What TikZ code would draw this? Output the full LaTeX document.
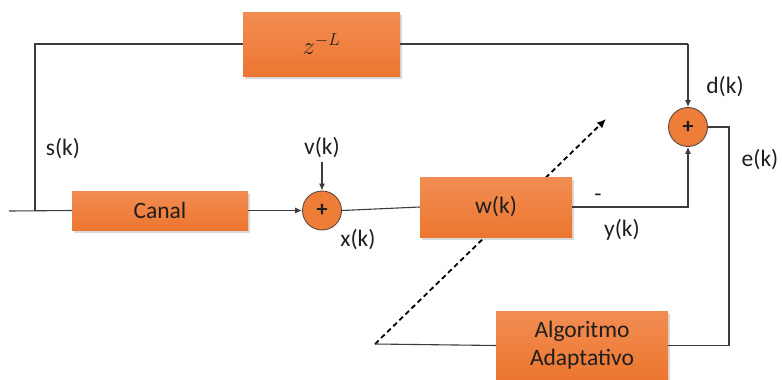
\documentclass[tikz,border=0pt]{standalone}
\usepackage{fontspec}
\setmainfont{Carlito}
\usetikzlibrary{arrows.meta,shadows}

\definecolor{orangeTop}{HTML}{F28D52}
\definecolor{orangeBot}{HTML}{EC7630}
\definecolor{orangeMid}{HTML}{EE7D38}
\definecolor{ringGray}{HTML}{5A4A40}
\definecolor{wireGray}{HTML}{3C3C3C}
\definecolor{inkBlack}{HTML}{1E1E1E}

\tikzset{
  block/.style={rectangle, inner sep=0pt, draw=none,
    top color=orangeTop, bottom color=orangeBot,
    drop shadow={shadow xshift=1.5pt, shadow yshift=-3pt, opacity=0.25, fill=black!60},
    font=\fontsize{23.5}{28}\selectfont, text=inkBlack, align=center},
  sumnode/.style={circle, minimum size=39pt, inner sep=0pt,
    fill=orangeMid, draw=ringGray, line width=0.9pt,
    font=\fontsize{22}{24}\selectfont\bfseries, text=inkBlack},
  wire/.style={draw=wireGray, line width=1.1pt},
  arr/.style={wire, -{Latex[length=7pt,width=6pt]}},
  adaptarrow/.style={draw=black, line width=1.8pt, dash pattern=on 5pt off 3.5pt,
    -{Latex[length=9pt,width=8pt]}},
  lbl/.style={font=\fontsize{23.5}{28}\selectfont, text=inkBlack, inner sep=0pt}
}

\begin{document}
\begin{tikzpicture}[x=1pt,y=-1pt]
  \useasboundingbox (0,0) rectangle (782,380);

  % adaptation arrow, drawn first so the filter block covers it
  \coordinate (adapt) at (375,344);
  \coordinate (adapttip) at (606,119);
  \draw[adaptarrow] (adapt) -- (adapttip);

  % blocks
  \node[block, minimum width=157pt, minimum height=64pt] (delay) at (321.5,44)
    {\fontsize{27}{30}\selectfont$z^{-L}$};
  \node[block, minimum width=176pt, minimum height=39pt] (canal) at (160,210.5) {Canal};
  \node[block, minimum width=152pt, minimum height=60pt] (filt) at (496,207) {w(k)};
  \node[block, minimum width=172pt, minimum height=69pt] (alg) at (582,345.5)
    {Algoritmo\\Adaptativo};

  % summing junctions
  \node[sumnode] (sum1) at (322,210.5) {+};
  \node[sumnode] (sum2) at (688,127) {+};

  % free wire ends and corners
  \coordinate (in) at (9,211);
  \coordinate (split) at (35,211);
  \coordinate (topleft) at (35,44);
  \coordinate (topright) at (688,44);
  \coordinate (noise) at (322,162);
  \coordinate (ecorner) at (729,127);

  % signal path
  \draw[wire] (in) -- (canal.west);
  \draw[wire] (split) -- (topleft) -- (delay.west);
  \draw[wire] (delay.east) -- (topright);
  \draw[arr] (topright) -- (sum2.north);
  \draw[arr] (canal.east) -- (sum1.west);
  \draw[arr] (noise) -- (sum1.north);
  \draw[wire] (sum1.east) -- (filt.west);
  \draw[arr] (filt.east) -| (sum2.south);
  \draw[wire] (sum2.east) -- (ecorner) |- (alg.east);
  \draw[wire] (alg.west) -- (adapt);

  % signal labels
  \node[lbl] (lbls) at (63,149) {s(k)};
  \node[lbl] (lblv) at (322,148) {v(k)};
  \node[lbl] (lblx) at (358,240) {x(k)};
  \node[lbl] (lblminus) at (598,198) {-};
  \node[lbl] (lbly) at (622,230) {y(k)};
  \node[lbl] (lbld) at (725,87) {d(k)};
  \node[lbl] (lble) at (760,160) {e(k)};
\end{tikzpicture}
\end{document}
